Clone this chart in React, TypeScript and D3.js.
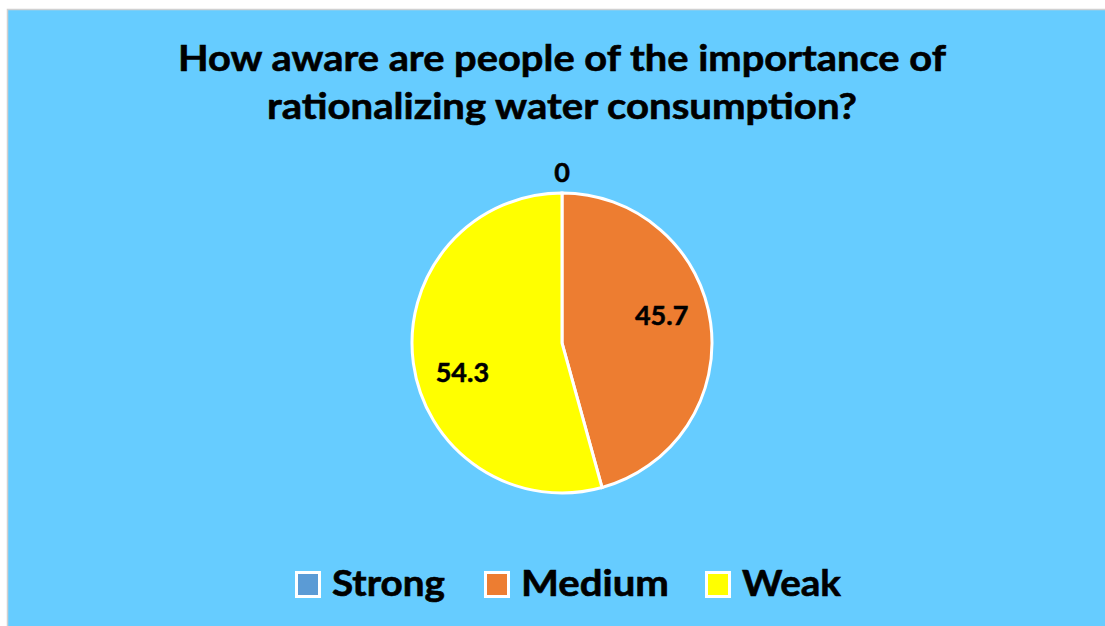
import React from "react";
import * as d3 from "d3";

const categories = ["Strong", "Medium", "Weak"];
const values = [0, 45.7, 54.3];
const labels = ["0", "45.7", "54.3"];
const titleLines = [
  "How aware are people of the importance of",
  "rationalizing water consumption?",
];
const colors = ["#5B9BD5", "#ED7D31", "#FFFF00"];

const W = 1105;
const H = 626;
const cx = 562;
const cy = 343;
const radius = 150;
const font = "Lato, 'Open Sans', sans-serif";

// widths the Calibri-like text takes in the original
const titleWidths = [768, 590];
const legendWidths = [113, 148, 99];
const legendX = [295, 484, 705];

export default function App() {
  const pie = d3.pie<number>().value(d => d).sort(null);
  const arcs = pie(values);
  const arc = d3.arc<d3.PieArcDatum<number>>().innerRadius(0).outerRadius(radius);
  const labelR = radius * 0.69;
  const shift = (8 * Math.PI) / 180;
  const labelPos = (a: d3.PieArcDatum<number>): [number, number] => {
    if (a.value === 0) {
      const r = radius + 22;
      const m = (a.startAngle + a.endAngle) / 2;
      return [Math.sin(m) * r, -Math.cos(m) * r];
    }
    const m = (a.startAngle + a.endAngle) / 2 - shift;
    return [Math.sin(m) * labelR, -Math.cos(m) * labelR];
  };

  return (
    <svg
      width={W}
      height={H}
      style={{ position: "absolute", left: 0, top: 0, display: "block" }}
      fontFamily={font}
    >
      <rect x={0} y={0} width={W} height={H} fill="#ffffff" />
      <rect x={7.5} y={9.5} width={W} height={H} fill="#66CCFF" stroke="#d0d0d0" strokeWidth={1.5} />

      {titleLines.map((t, i) => (
        <text
          key={i}
          x={cx}
          y={71 + i * 48}
          textAnchor="middle"
          fontSize={37}
          fontWeight="bold"
          fill="#000"
          stroke="#000"
          strokeWidth={0.6}
          textLength={titleWidths[i]}
          lengthAdjust="spacingAndGlyphs"
        >
          {t}
        </text>
      ))}

      <g transform={`translate(${cx},${cy})`}>
        {arcs.map((a, i) => (
          <path key={i} d={arc(a) || ""} fill={colors[i]} stroke="#fff" strokeWidth={3} />
        ))}
        {arcs.map((a, i) => {
          const [x, y] = labelPos(a);
          return (
            <text
              key={"l" + i}
              x={x}
              y={y}
              textAnchor="middle"
              dominantBaseline="central"
              fontSize={27}
              fontWeight="bold"
              fill="#000"
              stroke="#000"
              strokeWidth={0.5}
            >
              {labels[i]}
            </text>
          );
        })}
      </g>

      {categories.map((c, i) => (
        <g key={c} transform={`translate(${legendX[i]},571)`}>
          <rect x={1.5} y={1.5} width={23} height={24} fill={colors[i]} stroke="#fff" strokeWidth={3} />
          <text
            x={37}
            y={25}
            fontSize={37}
            fontWeight="bold"
            fill="#000"
            stroke="#000"
            strokeWidth={0.6}
            textLength={legendWidths[i]}
            lengthAdjust="spacingAndGlyphs"
          >
            {c}
          </text>
        </g>
      ))}
    </svg>
  );
}
